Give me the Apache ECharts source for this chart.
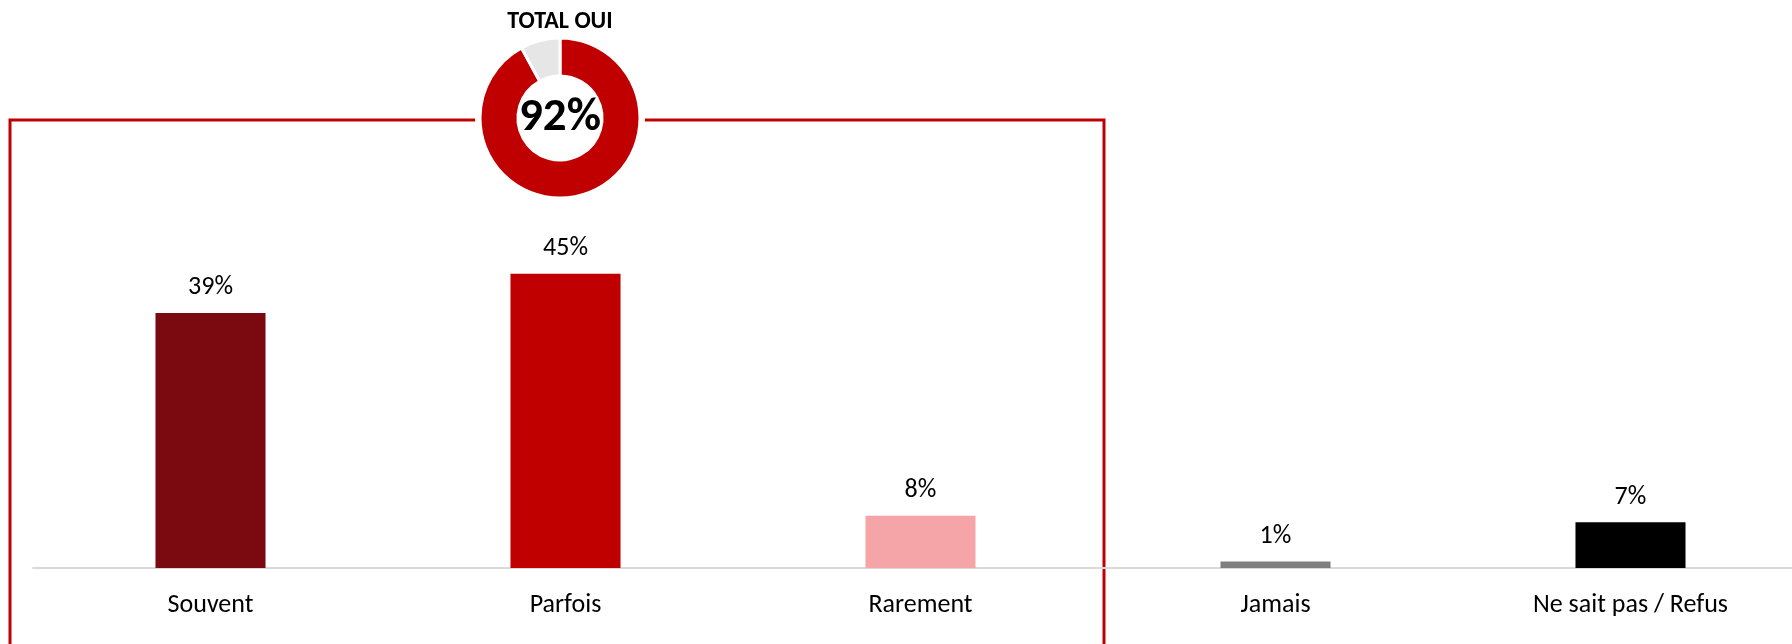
<!DOCTYPE html>
<html>
<head>
<meta charset="utf-8">
<script src="https://cdn.jsdelivr.net/npm/echarts@6/dist/echarts.min.js"></script>
<style>html,body{margin:0;padding:0;background:#fff;overflow:hidden;width:1792px;height:644px}#c{width:1810px;height:644px}</style>
</head>
<body>
<div id="c"></div>
<script>
const categories = ['Souvent', 'Parfois', 'Rarement', 'Jamais', 'Ne sait pas / Refus'];
const values = [39, 45, 8, 1, 7];
const barColors = ['#7a0a10', '#c00000', '#f5a5a7', '#7f7f7f', '#000000'];
const totalLabel = 'TOTAL OUI';
const totalOui = values[0] + values[1] + values[2];
const donutValues = [totalOui, 100 - totalOui];
const donutColors = ['#c00000', '#e6e6e6'];

const FONT = 'Carlito, Calibri, Lato, "Noto Sans", sans-serif';
const chart = echarts.init(document.getElementById('c'), null, {renderer: 'canvas'});
chart.setOption({
  animation: false,
  backgroundColor: '#fff',
  textStyle: {fontFamily: FONT, color: '#000'},
  graphic: [
    {type: 'polyline', z: 0, shape: {points: [[10, 644], [10, 120], [1104, 120], [1104, 644]]},
     style: {stroke: '#c00000', lineWidth: 3, fill: null}},
    {type: 'circle', z: 1, shape: {cx: 560, cy: 118, r: 85}, style: {fill: '#fff'}},
    {type: 'text', z: 10, x: 560, y: 22,
     style: {text: totalLabel, align: 'center', verticalAlign: 'middle',
             font: 'bold 24px ' + FONT, fill: '#000'}}
  ],
  grid: {left: 33, width: 1775, top: 241, bottom: 76, containLabel: false},
  xAxis: {
    type: 'category', data: categories,
    axisLine: {lineStyle: {color: '#d9d9d9', width: 2}},
    axisTick: {show: false},
    axisLabel: {fontFamily: FONT, fontSize: 26, color: '#000', margin: 24}
  },
  yAxis: {type: 'value', min: 0, max: 50, show: false, splitLine: {show: false}},
  series: [
    {
      type: 'bar', barWidth: '31%', z: 3,
      data: values.map((v, i) => ({value: v, itemStyle: {color: barColors[i]}})),
      label: {show: true, position: 'top', distance: 12, formatter: '{c}%',
              fontFamily: FONT, fontSize: 26, color: '#000'}
    },
    {
      type: 'pie', z: 5, center: [560, 118], radius: [42, 80], startAngle: 90, clockwise: true,
      silent: true,
      itemStyle: {borderColor: '#fff', borderWidth: 3},
      labelLine: {show: false},
      data: donutValues.map((v, i) => ({
        value: v, itemStyle: {color: donutColors[i]},
        label: i === 0 ? {show: true, position: 'center', formatter: '{c}%',
          fontFamily: FONT, fontSize: 47, fontWeight: 'bold', color: '#000'} : {show: false}
      }))
    }
  ]
});
</script>
</body>
</html>
